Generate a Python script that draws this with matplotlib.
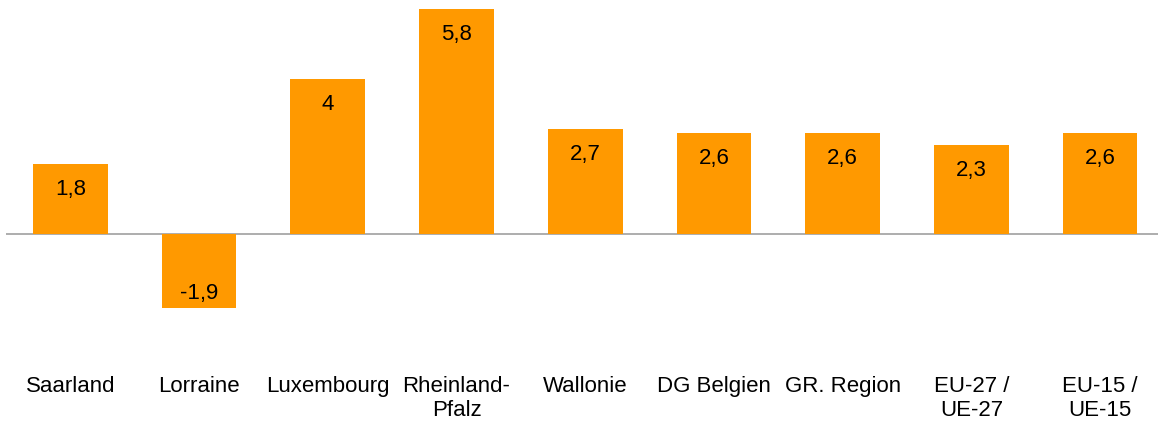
import matplotlib.pyplot as plt

plt.rcParams['font.family'] = ['Liberation Sans', 'DejaVu Sans']

regions = ['Saarland', 'Lorraine', 'Luxembourg', 'Rheinland-\nPfalz', 'Wallonie',
           'DG Belgien', 'GR. Region', 'EU-27 /\nUE-27', 'EU-15 /\nUE-15']
values = [1.8, -1.9, 4.0, 5.8, 2.7, 2.6, 2.6, 2.3, 2.6]
value_labels = ['1,8', '-1,9', '4', '5,8', '2,7', '2,6', '2,6', '2,3', '2,6']

fig = plt.figure(figsize=(11.58, 4.25), dpi=100)
ax = fig.add_axes([6 / 1158, 0, 1 - 6 / 1158, 1])

x = range(len(regions))
ax.bar(x, values, width=0.58, color='#FF9900', zorder=2)
ax.axhline(0, color='#A0A0A0', linewidth=1.2, zorder=1)

ax.set_xlim(-0.5, 8.45)
ax.set_ylim(-4.91, 6.02)
ax.axis('off')

for i, (v, lab) in enumerate(zip(values, value_labels)):
    if v >= 0:
        ax.annotate(lab, (i, v), xytext=(0, -11), textcoords='offset points',
                    ha='center', va='top', fontsize=16, color='black')
    else:
        ax.annotate(lab, (i, v), xytext=(0, 3), textcoords='offset points',
                    ha='center', va='bottom', fontsize=16, color='black')

for i, name in enumerate(regions):
    ax.text(i, -3.65, name, ha='center', va='top', fontsize=16,
            color='black', linespacing=1.2)

fig.savefig('out.png', dpi=100)
